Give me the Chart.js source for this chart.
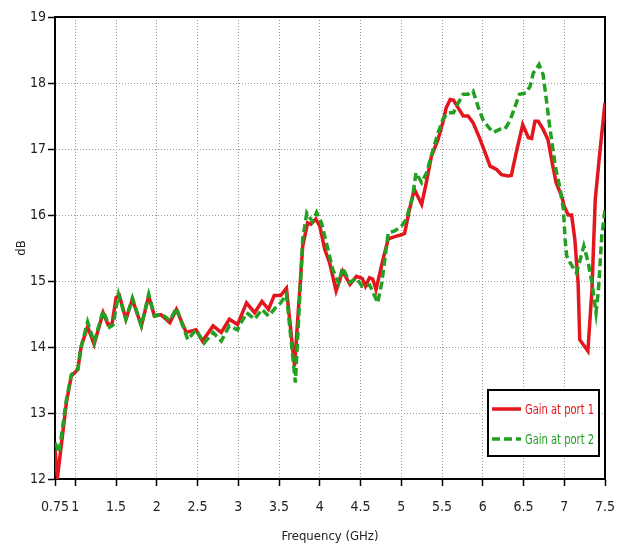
<!DOCTYPE html>
<html>
<head>
<meta charset="utf-8">
<script src="https://cdn.jsdelivr.net/npm/chart.js@4.4.1/dist/chart.umd.min.js"></script>
<style>
  html,body{margin:0;padding:0;background:#fff}
</style>
</head>
<body>
<canvas id="c" width="619" height="544"></canvas>
<script>
const FONT = "'DejaVu Sans Condensed','Liberation Sans Narrow',sans-serif"

// x ticks (GHz)
const xTicks = [0.75,1,1.5,2,2.5,3,3.5,4,4.5,5,5.5,6,6.5,7,7.5]

// Gain at port 1
const freq1 = [0.75,0.78,0.89,0.95,1.03,1.07,1.15,1.23,1.34,1.40,1.45,1.50,1.54,1.62,1.70,1.81,1.90,1.97,2.05,2.16,2.24,2.36,2.48,2.56,2.69,2.79,2.89,2.99,3.10,3.20,3.29,3.37,3.44,3.52,3.59,3.69,3.79,3.85,3.89,3.95,4.00,4.06,4.12,4.20,4.28,4.37,4.45,4.52,4.56,4.61,4.65,4.69,4.78,4.84,4.94,5.00,5.04,5.10,5.16,5.25,5.31,5.37,5.45,5.51,5.55,5.60,5.64,5.70,5.76,5.82,5.88,5.96,6.03,6.09,6.17,6.23,6.31,6.35,6.41,6.49,6.56,6.60,6.64,6.68,6.74,6.80,6.86,6.90,6.97,7.00,7.05,7.09,7.13,7.17,7.19,7.29,7.34,7.38,7.44,7.50]
const gain1 = [12.45,12.02,13.16,13.56,13.66,14.0,14.31,14.04,14.52,14.34,14.35,14.75,14.78,14.42,14.72,14.32,14.77,14.47,14.49,14.37,14.57,14.22,14.26,14.09,14.32,14.22,14.42,14.34,14.67,14.52,14.69,14.57,14.78,14.78,14.89,13.71,15.53,15.88,15.86,15.94,15.83,15.48,15.28,14.85,15.15,14.95,15.07,15.04,14.92,15.05,15.03,14.87,15.35,15.64,15.68,15.7,15.72,16.08,16.39,16.16,16.51,16.89,17.14,17.4,17.62,17.75,17.74,17.62,17.5,17.5,17.4,17.17,16.94,16.74,16.69,16.61,16.59,16.6,16.94,17.37,17.17,17.16,17.42,17.42,17.3,17.14,16.74,16.49,16.28,16.13,16.0,16.0,15.63,14.97,14.11,13.94,14.87,16.23,16.99,17.7]

// Gain at port 2
const freq2 = [0.75,0.80,0.89,0.95,1.03,1.07,1.15,1.23,1.34,1.42,1.46,1.53,1.62,1.70,1.81,1.90,1.97,2.06,2.16,2.24,2.38,2.48,2.58,2.69,2.79,2.89,2.99,3.10,3.20,3.29,3.37,3.46,3.52,3.59,3.70,3.79,3.84,3.91,3.96,4.02,4.08,4.16,4.23,4.28,4.37,4.45,4.52,4.61,4.65,4.71,4.76,4.84,4.92,5.00,5.06,5.14,5.18,5.25,5.31,5.39,5.45,5.51,5.57,5.64,5.70,5.76,5.82,5.88,5.94,6.00,6.07,6.13,6.21,6.27,6.33,6.39,6.45,6.53,6.58,6.62,6.69,6.74,6.78,6.82,6.89,6.95,6.99,7.01,7.03,7.07,7.11,7.15,7.19,7.24,7.29,7.34,7.39,7.42,7.46,7.50]
const gain2 = [12.55,12.4,13.2,13.58,13.66,14.0,14.38,14.07,14.55,14.3,14.33,14.8,14.42,14.74,14.32,14.8,14.47,14.5,14.4,14.59,14.11,14.26,14.06,14.22,14.09,14.32,14.26,14.52,14.42,14.57,14.47,14.6,14.67,14.8,13.46,15.63,16.03,15.9,16.04,15.88,15.58,15.17,14.97,15.2,14.98,15.04,14.92,14.94,14.84,14.67,14.97,15.73,15.76,15.83,15.93,16.28,16.64,16.49,16.64,16.99,17.24,17.45,17.55,17.55,17.7,17.83,17.83,17.88,17.65,17.45,17.33,17.25,17.3,17.3,17.42,17.62,17.83,17.85,17.95,18.15,18.28,18.13,17.75,17.35,16.74,16.39,16.08,15.63,15.38,15.28,15.2,15.12,15.3,15.53,15.3,14.97,14.52,14.87,15.68,16.08]

const pts = (xs, ys) => xs.map((x,i)=>({x, y:ys[i]}))

// frame on top/right, the axes draw left/bottom
const frame = {
  id:'frame',
  beforeDatasetsDraw(chart){
    const {ctx, chartArea:a} = chart
    ctx.save()
    ctx.strokeStyle='#000'; ctx.lineWidth=2
    ctx.beginPath()
    ctx.moveTo(a.left,a.top); ctx.lineTo(a.right,a.top); ctx.lineTo(a.right,a.bottom)
    ctx.stroke()
    ctx.restore()
  }
}

// boxed legend inside the plot, lower right
const boxLegend = {
  id:'boxLegend',
  afterDraw(chart){
    const {ctx, chartArea:a} = chart
    const w=111, h=66, x=a.right-117, y=a.bottom-89
    ctx.save()
    ctx.fillStyle='#fff'; ctx.fillRect(x,y,w,h)
    ctx.lineWidth=2; ctx.strokeStyle='#000'; ctx.strokeRect(x,y,w,h)
    const items = [chart.data.datasets[0], chart.data.datasets[1]]
    items.forEach((ds,i)=>{
      const ly = y+19+i*30
      ctx.strokeStyle=ds.borderColor; ctx.lineWidth=3.5
      ctx.setLineDash(ds.borderDash||[])
      ctx.beginPath(); ctx.moveTo(x+4,ly); ctx.lineTo(x+33,ly); ctx.stroke()
      ctx.setLineDash([])
      ctx.fillStyle=ds.borderColor
      ctx.font='14px '+FONT
      ctx.textBaseline='middle'
      const tw = ctx.measureText(ds.label).width
      ctx.save()
      ctx.translate(x+37, ly+1)
      ctx.scale(Math.min(1, 69/tw), 1)
      ctx.fillText(ds.label, 0, 0)
      ctx.restore()
    })
    ctx.restore()
  }
}

new Chart(document.getElementById('c'), {
  type:'line',
  data:{
    datasets:[
      {label:'Gain at port 1', data:pts(freq1,gain1), borderColor:'#e3161e', borderWidth:3.5, pointRadius:0, tension:0, order:1},
      {label:'Gain at port 2', data:pts(freq2,gain2), borderColor:'#22a022', borderWidth:3.5, borderDash:[8,4], pointRadius:0, tension:0, order:0}
    ]
  },
  options:{
    responsive:false,
    animation:false,
    layout:{padding:{top:17,right:14,left:0,bottom:0}},
    plugins:{legend:{display:false}, tooltip:{enabled:false}},
    scales:{
      x:{
        type:'linear', min:0.75, max:7.5,
        afterBuildTicks(s){ s.ticks = xTicks.map(v=>({value:v})) },
        afterFit(s){ s.height = 65; s.paddingLeft = 0; s.paddingRight = 0 },
        ticks:{color:'#222', font:{family:FONT, size:14}, padding:13, maxRotation:0, autoSkip:false, callback:v=>String(v)},
        grid:{color:'#9a9a9a', lineWidth:1, tickColor:'#000', tickLength:7, tickWidth:1.5},
        border:{color:'#000', width:2, dash:[1,2]},
        title:{display:true, text:'Frequency (GHz)', color:'#222', font:{family:FONT, size:13}, padding:{top:1,bottom:0}}
      },
      y:{
        min:12, max:19,
        ticks:{stepSize:1, color:'#222', font:{family:FONT, size:14}, padding:2},
        afterFit(s){ s.width = 55; s.paddingTop = 0; s.paddingBottom = 0 },
        grid:{color:'#9a9a9a', lineWidth:1, tickColor:'#000', tickLength:7, tickWidth:1.5},
        border:{color:'#000', width:2, dash:[1,2]},
        title:{display:true, text:'dB', color:'#222', font:{family:FONT, size:13}, padding:{top:14,bottom:0}}
      }
    }
  },
  plugins:[frame, boxLegend]
})
</script>
</body>
</html>
